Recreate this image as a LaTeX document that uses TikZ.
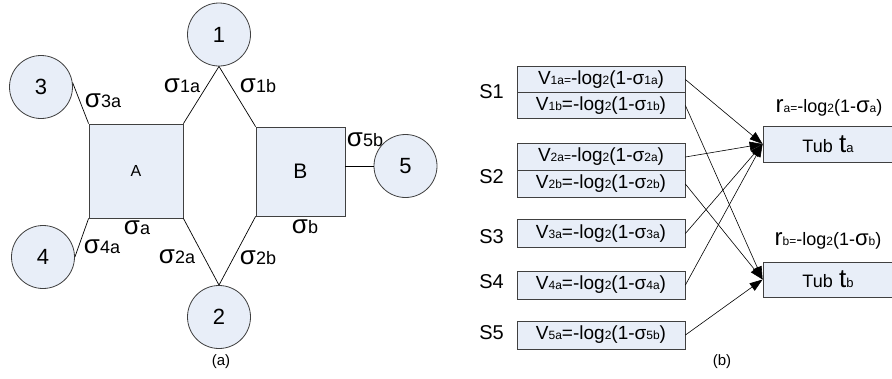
\documentclass[tikz,border=0pt]{standalone}
\usepackage{fontspec}
\setmainfont{Liberation Sans}
\usetikzlibrary{arrows.meta}
\definecolor{boxfill}{RGB}{232,238,248}
\definecolor{boxline}{RGB}{64,64,64}
\newcommand\fs[2]{{\fontsize{#1pt}{#1pt}\selectfont #2}}
\newcommand\siglab[1]{\fs{26}{σ}\fs{18}{#1}}
\newcommand\smx[1]{\fs{12}{#1}}
\begin{document}
\begin{tikzpicture}[x=1pt,y=-1pt,
  node font=\fontsize{19pt}{19pt}\selectfont,
  station/.style={circle,draw=boxline,fill=boxfill,line width=0.8pt,minimum size=63pt,inner sep=0pt,font=\fontsize{22pt}{22pt}\selectfont},
  tubsq/.style={rectangle,draw=boxline,fill=boxfill,line width=0.8pt,inner sep=0pt},
  vbox/.style={rectangle,draw=boxline,fill=boxfill,line width=0.8pt,minimum width=168pt,inner sep=0pt,font=\fontsize{19pt}{19pt}\selectfont},
  tbox/.style={rectangle,draw=boxline,fill=boxfill,line width=0.8pt,minimum width=130pt,inner sep=0pt},
  lbl/.style={inner sep=0pt},
  link/.style={draw=black,line width=0.7pt},
  arr/.style={draw=black,line width=0.6pt,-{Triangle[length=13pt,width=9pt]}}]
\useasboundingbox (0,0) rectangle (892,378);
% ---- (a) ----
\node[tubsq,minimum width=94pt,minimum height=94pt,font=\fontsize{16pt}{16pt}\selectfont] (A) at (136,171) {A};
\node[tubsq,minimum width=89pt,minimum height=89pt,font=\fontsize{21pt}{21pt}\selectfont] (B) at (300.5,171.5) {B};
\node[station] (c1) at (219,34.5) {1};
\node[station] (c2) at (219,317) {2};
\node[station] (c3) at (41,87) {3};
\node[station] (c4) at (43,257) {4};
\node[station] (c5) at (405.5,166) {5};
\draw[link] (c1.south) -- (A.north east);
\draw[link] (c1.south) -- (B.north west);
\draw[link] (c2.north) -- (A.south east);
\draw[link] (c2.north) -- (B.south west);
\draw[link] (c3.8) -- (A.north west);
\draw[link] (c4.east) -- (A.south west);
\draw[link] (c5.west) -- (c5.west -| B.east);
\node[lbl] (l1a) at (182,86) {\siglab{1a}};
\node[lbl] (l1b) at (258,86) {\siglab{1b}};
\node[lbl] (l3a) at (103,101) {\siglab{3a}};
\node[lbl] (l5b) at (365,140) {\siglab{5b}};
\node[lbl] (la) at (137,228) {\siglab{a}};
\node[lbl] (lb) at (305,227) {\siglab{b}};
\node[lbl] (l4a) at (102,247) {\siglab{4a}};
\node[lbl] (l2a) at (177,257) {\siglab{2a}};
\node[lbl] (l2b) at (258,258) {\siglab{2b}};
\node[lbl,font=\fontsize{15pt}{15pt}\selectfont] (capa) at (221,362) {(a)};
% ---- (b) ----
\node[vbox,minimum height=26pt] (v1a) at (601,79.5) {V\smx{1a=}-log\smx{2}(1-σ\smx{1a})};
\node[vbox,minimum height=26pt] (v1b) at (601,105.5) {V\smx{1b}=-log\smx{2}(1-σ\smx{1b})};
\node[vbox,minimum height=27pt] (v2a) at (601,157) {V\smx{2a=}-log\smx{2}(1-σ\smx{2a})};
\node[vbox,minimum height=27pt] (v2b) at (601,184) {V\smx{2b}=-log\smx{2}(1-σ\smx{2b})};
\node[vbox,minimum height=28pt] (v3a) at (601,233.5) {V\smx{3a}=-log\smx{2}(1-σ\smx{3a})};
\node[vbox,minimum height=28pt] (v4a) at (601,285) {V\smx{4a}=-log\smx{2}(1-σ\smx{4a})};
\node[vbox,minimum height=28pt] (v5a) at (601,335) {V\smx{5a}=-log\smx{2}(1-σ\smx{5b})};
\node[lbl,anchor=east] (s1) at (504,92) {\fs{20}{S1}};
\node[lbl,anchor=east] (s2) at (504,177) {\fs{20}{S2}};
\node[lbl,anchor=east] (s3) at (504,237) {\fs{20}{S3}};
\node[lbl,anchor=east] (s4) at (504,282) {\fs{20}{S4}};
\node[lbl,anchor=east] (s5) at (504,333) {\fs{20}{S5}};
\node[tbox,minimum height=36pt,text width=129pt,align=center] (ta) at (828,144) {\fs{18}{Tub }\fs{26}{t}\fs{13}{a}};
\node[tbox,minimum height=35pt,text width=129pt,align=center] (tb) at (828,279.5) {\fs{18}{Tub }\fs{26}{t}\fs{13}{b}};
\node[lbl] (ra) at (829,108) {\fs{24}{r}\smx{a=}\fs{18}{-log}\smx{2}\fs{18}{(1-}\fs{22}{σ}\smx{a}\fs{18}{)}};
\node[lbl] (rb) at (828,241) {\fs{24}{r}\smx{b=}\fs{18}{-log}\smx{2}\fs{18}{(1-}\fs{22}{σ}\smx{b}\fs{18}{)}};
\draw[arr] (v1a.east) -- (ta.west);
\draw[arr] (v2a.east) -- (ta.west);
\draw[arr] (v3a.east) -- (ta.west);
\draw[arr] (v4a.east) -- (ta.west);
\draw[arr] (v1b.east) -- (tb.west);
\draw[arr] (v2b.east) -- (tb.west);
\draw[arr] (v5a.east) -- (tb.west);
\node[lbl,font=\fontsize{15pt}{15pt}\selectfont] (capb) at (722,362) {(b)};
\end{tikzpicture}
\end{document}
